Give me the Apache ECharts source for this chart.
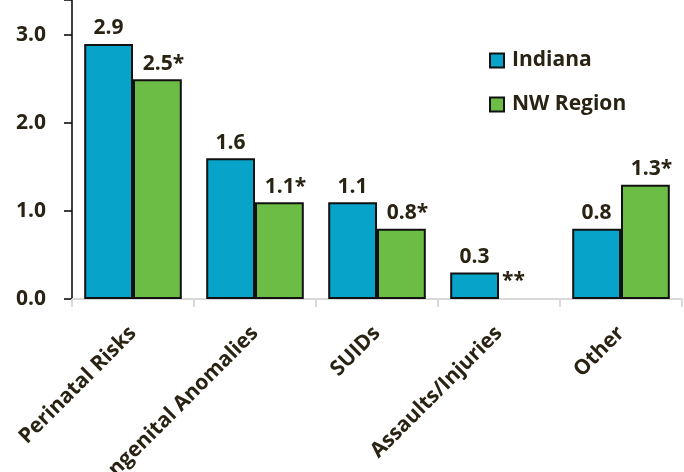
<!DOCTYPE html>
<html>
<head>
<meta charset="utf-8">
<script src="https://cdn.jsdelivr.net/npm/echarts@6/dist/echarts.min.js"></script>
<style>
  html,body{margin:0;padding:0;background:#fff;}
  #main{width:684px;height:472px;}
</style>
</head>
<body>
<div id="main"></div>
<script>
// categories and values
const categories = ["Perinatal Risks", "Congenital Anomalies", "SUIDs", "Assaults/Injuries", "Other"];
const indiana = [2.9, 1.6, 1.1, 0.3, 0.8];
const nwRegion = [2.5, 1.1, 0.8, 0, 1.3];
const nwLabels = ["2.5*", "1.1*", "0.8*", "**", "1.3*"];

const textColor = "#2a2313";
const font = "'Open Sans', sans-serif";

const chart = echarts.init(document.getElementById("main"));

const option = {
  animation: false,
  textStyle: { fontFamily: font },
  grid: { left: 72, right: 2, top: 0, bottom: 173, containLabel: false, outerBoundsMode: "none" },
  legend: {
    orient: "vertical",
    left: 489,
    top: 50,
    padding: 0,
    itemWidth: 14,
    itemHeight: 14,
    itemGap: 23,
    icon: "rect",
    textStyle: { color: textColor, fontSize: 21, fontWeight: "bold", fontFamily: font, padding: [0, 0, 0, 3] },
    data: ["Indiana", "NW Region"]
  },
  xAxis: {
    type: "category",
    data: categories,
    axisLine: { lineStyle: { color: "#d9d9d9", width: 2 } },
    axisTick: { show: true, length: 8, lineStyle: { color: "#d9d9d9", width: 2 } },
    axisLabel: {
      rotate: 45,
      margin: 31,
      interval: 0,
      color: textColor,
      fontSize: 21,
      fontWeight: "bold",
      fontFamily: font
    }
  },
  yAxis: {
    type: "value",
    min: 0,
    max: 3.4,
    interval: 1,
    splitLine: { show: false },
    axisLine: { show: true, lineStyle: { color: "#000", width: 1.5 } },
    axisTick: { show: true, length: 8, lineStyle: { color: "#000", width: 1.5 } },
    axisLabel: {
      margin: 26,
      color: textColor,
      fontSize: 21,
      fontWeight: "bold",
      fontFamily: font,
      formatter: v => (Math.abs(v - Math.round(v)) < 1e-6 ? v.toFixed(1) : "")
    }
  },
  series: [
    {
      name: "Indiana",
      type: "bar",
      data: indiana,
      barGap: "0%",
      barCategoryGap: "20%",
      itemStyle: { color: "#07a3c8", borderColor: "#111", borderWidth: 2 },
      label: {
        show: true,
        position: "top",
        distance: 5,
        color: textColor,
        fontSize: 21,
        fontWeight: "bold",
        fontFamily: font,
        formatter: p => p.value.toFixed(1)
      }
    },
    {
      name: "NW Region",
      type: "bar",
      data: nwRegion.map((v, i) => nwLabels[i] === "**"
        ? { value: v, itemStyle: { borderWidth: 0 }, label: { offset: [-10, -2] } }
        : { value: v, label: { offset: [6, 0] } }),
      itemStyle: { color: "#6cbd45", borderColor: "#111", borderWidth: 2 },
      label: {
        show: true,
        position: "top",
        distance: 5,
        color: textColor,
        fontSize: 21,
        fontWeight: "bold",
        fontFamily: font,
        formatter: p => nwLabels[p.dataIndex]
      }
    }
  ]
};

chart.setOption(option);
</script>
</body>
</html>
